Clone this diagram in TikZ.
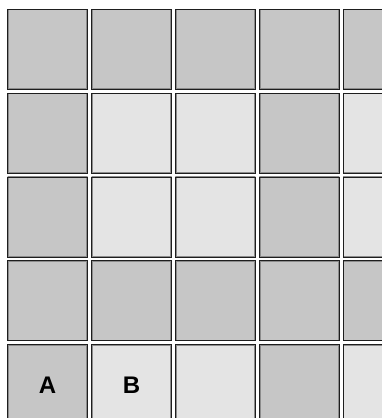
\documentclass[tikz,border=0pt]{standalone}
\usepackage{fontspec}
\setmainfont{Liberation Sans}
\usepackage{xcolor}
\usepackage{tikz}
\usetikzlibrary{matrix, positioning}
\definecolor{tiledark}{HTML}{C6C6C6}
\definecolor{tilelight}{HTML}{E4E4E4}
\definecolor{tileedge}{HTML}{1E1E1E}

\begin{document}
\begin{tikzpicture}[
    x=1pt, y=-1pt,
    tile/.style={rectangle, draw=tileedge, line width=0.9pt, minimum size=80pt, inner sep=0pt,
      font=\fontsize{24}{28}\selectfont\bfseries,
      path picture={\draw[gray!90, line width=2.4pt] (path picture bounding box.south west) rectangle (path picture bounding box.north east);}},
    dark/.style={tile, fill=tiledark},
    light/.style={tile, fill=tilelight}
  ]

    \useasboundingbox (0,0) rectangle (381,418);

    \matrix (grid) [row sep=3pt, column sep=3pt, inner sep=0pt, anchor=north west] at (7,8.5) {
      \node[dark] (t11) {}; &
      \node[dark] (t12) {}; &
      \node[dark] (t13) {}; &
      \node[dark] (t14) {}; &
      \node[dark] (t15) {}; \\
      \node[dark] (t21) {}; &
      \node[light] (t22) {}; &
      \node[light] (t23) {}; &
      \node[dark] (t24) {}; &
      \node[light] (t25) {}; \\
      \node[dark] (t31) {}; &
      \node[light] (t32) {}; &
      \node[light] (t33) {}; &
      \node[dark] (t34) {}; &
      \node[light] (t35) {}; \\
      \node[dark] (t41) {}; &
      \node[dark] (t42) {}; &
      \node[dark] (t43) {}; &
      \node[dark] (t44) {}; &
      \node[dark] (t45) {}; \\
      \node[dark] (t51) {A}; &
      \node[light] (t52) {B}; &
      \node[light] (t53) {}; &
      \node[dark] (t54) {}; &
      \node[light] (t55) {}; \\
    };

  \end{tikzpicture}
\end{document}
